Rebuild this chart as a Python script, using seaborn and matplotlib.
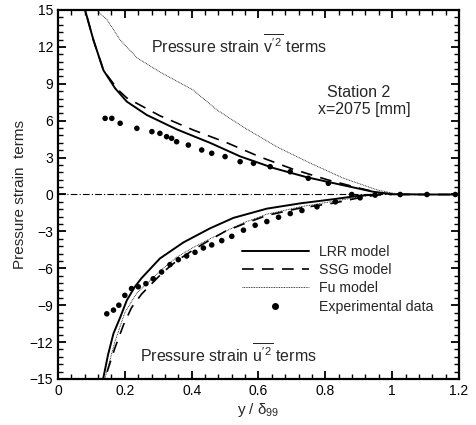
import numpy as np
import pandas as pd
import matplotlib
matplotlib.use("Agg")
import matplotlib.pyplot as plt
import seaborn as sns
from matplotlib.ticker import AutoMinorLocator
from matplotlib.lines import Line2D

# ---- data ----
lrr_up_x = [0.070, 0.081, 0.106, 0.136, 0.171, 0.206, 0.266, 0.355, 0.455, 0.545, 0.645, 0.745, 0.854, 0.944, 1.004, 1.10, 1.19]
lrr_up_y = [17.0, 15.0, 12.56, 10.1, 8.63, 7.55, 6.46, 5.30, 4.20, 3.10, 2.15, 1.40, 0.75, 0.22, 0.02, 0.0, 0.0]

ssg_up_x = [0.070, 0.081, 0.106, 0.136, 0.180, 0.206, 0.305, 0.404, 0.506, 0.605, 0.704, 0.806, 0.904, 0.965, 1.02, 1.10, 1.19]
ssg_up_y = [17.0, 15.0, 12.56, 10.1, 8.5, 7.85, 6.40, 5.25, 4.20, 3.05, 2.05, 1.20, 0.50, 0.10, 0.0, 0.0, 0.0]

fu_up_x = [0.105, 0.115, 0.147, 0.186, 0.237, 0.305, 0.404, 0.476, 0.554, 0.656, 0.754, 0.853, 0.955, 1.004, 1.10, 1.19]
fu_up_y = [17.0, 15.0, 14.2, 12.56, 11.1, 9.96, 8.5, 6.87, 5.49, 3.86, 2.56, 1.34, 0.37, 0.10, 0.0, 0.0]

lrr_lo_x = [0.130, 0.135, 0.150, 0.166, 0.186, 0.206, 0.230, 0.250, 0.305, 0.375, 0.455, 0.525, 0.625, 0.725, 0.825, 0.900, 0.950]
lrr_lo_y = [-16.0, -15.0, -13.0, -11.3, -10.0, -8.6, -7.5, -6.8, -5.2, -3.9, -2.75, -1.9, -1.15, -0.72, -0.38, -0.10, 0.0]

ssg_lo_x = [0.135, 0.140, 0.170, 0.196, 0.220, 0.250, 0.275, 0.315, 0.355, 0.405, 0.445, 0.500, 0.555, 0.625, 0.725, 0.825, 0.895, 0.950, 1.000]
ssg_lo_y = [-16.0, -15.0, -12.5, -10.6, -9.2, -8.1, -7.4, -6.3, -5.4, -4.5, -3.85, -3.0, -2.4, -1.7, -1.1, -0.7, -0.3, -0.05, 0.0]

fu_lo_x = [0.135, 0.140, 0.170, 0.200, 0.236, 0.275, 0.315, 0.355, 0.405, 0.455, 0.500, 0.555, 0.625, 0.725, 0.825, 0.900, 0.950]
fu_lo_y = [-16.0, -15.0, -12.0, -9.6, -8.0, -7.0, -6.0, -5.1, -4.3, -3.6, -3.0, -2.3, -1.6, -1.0, -0.55, -0.2, 0.0]

exp_up_x = [0.141, 0.161, 0.186, 0.236, 0.281, 0.305, 0.325, 0.340, 0.355, 0.390, 0.430, 0.460, 0.500, 0.545,
            0.585, 0.635, 0.695, 0.749, 0.809, 0.879, 0.904, 0.949, 1.024, 1.104, 1.189]
exp_up_y = [6.19, 6.19, 5.79, 5.38, 5.11, 4.97, 4.70, 4.57, 4.29, 4.02, 3.62, 3.35, 3.08, 2.67,
            2.54, 2.26, 1.85, 1.32, 0.91, 0.0, -0.27, -0.05, 0.0, 0.0, 0.0]

exp_lo_x = [0.146, 0.166, 0.182, 0.200, 0.220, 0.240, 0.263, 0.285, 0.310, 0.335, 0.360, 0.385, 0.410, 0.435,
            0.460, 0.490, 0.520, 0.555, 0.590, 0.625, 0.660, 0.695, 0.730, 0.775, 0.830]
exp_lo_y = [-9.7, -9.4, -9.0, -8.2, -7.65, -7.5, -7.25, -6.85, -6.3, -5.7, -5.3, -5.0, -4.7, -4.35,
            -4.1, -3.75, -3.4, -2.9, -2.5, -2.2, -1.85, -1.55, -1.3, -1.0, -0.6]

zero_x = [0.0, 1.2]
zero_y = [0.0, 0.0]

x_ticks = [0, 0.2, 0.4, 0.6, 0.8, 1.0, 1.2]
x_ticklabels = ["0", "0.2", "0.4", "0.6", "0.8", "1", "1.2"]
y_ticks = [-15, -12, -9, -6, -3, 0, 3, 6, 9, 12, 15]

# ---- figure ----
sns.set_style("ticks")
plt.rcParams['font.family'] = ['Liberation Sans', 'DejaVu Sans']
plt.rcParams['mathtext.fontset'] = 'custom'
plt.rcParams['mathtext.rm'] = 'Liberation Sans'
plt.rcParams['mathtext.it'] = 'Liberation Sans'

fig = plt.figure(figsize=(4.77, 4.25), dpi=100)
ax = fig.add_axes([58/477, 1-379/425, 401/477, 369/425])

k = dict(ax=ax, sort=False, estimator=None, color='black', legend=False)

sns.lineplot(x=zero_x, y=zero_y, linewidth=0.8, linestyle=(0, (6, 2, 1, 2)), **k)
sns.lineplot(x=fu_up_x, y=fu_up_y, linewidth=0.6, linestyle=(0, (1, 1)), **k)
sns.lineplot(x=fu_lo_x, y=fu_lo_y, linewidth=0.6, linestyle=(0, (1, 1)), **k)
sns.lineplot(x=ssg_up_x, y=ssg_up_y, linewidth=1.2, linestyle=(0, (7, 5)), **k)
sns.lineplot(x=ssg_lo_x, y=ssg_lo_y, linewidth=1.2, linestyle=(0, (7, 5)), **k)
sns.lineplot(x=lrr_up_x, y=lrr_up_y, linewidth=1.4, linestyle='-', **k)
sns.lineplot(x=lrr_lo_x, y=lrr_lo_y, linewidth=1.4, linestyle='-', **k)
sns.scatterplot(x=exp_up_x, y=exp_up_y, ax=ax, color='black', s=16, edgecolor='none', legend=False, zorder=5)
sns.scatterplot(x=exp_lo_x, y=exp_lo_y, ax=ax, color='black', s=16, edgecolor='none', legend=False, zorder=5)

ax.set_xlim(0, 1.2)
ax.set_ylim(-15, 15)
ax.set_xticks(x_ticks)
ax.set_xticklabels(x_ticklabels)
ax.set_yticks(y_ticks)
ax.xaxis.set_minor_locator(AutoMinorLocator(5))
ax.yaxis.set_minor_locator(AutoMinorLocator(5))
ax.tick_params(which='both', direction='in', top=True, right=True, colors='black', labelsize=10)
ax.tick_params(which='major', length=6, width=1.3)
ax.tick_params(which='minor', length=3.5, width=1.0)
for sp in ax.spines.values():
    sp.set_linewidth(1.6)
    sp.set_color('black')

ax.set_xlabel(r"y / $\delta_{99}$", fontsize=11, labelpad=2)
ax.set_ylabel("Pressure strain  terms", fontsize=11, labelpad=2)

fs = 11.5
ax.text(0.278, 12.2, r"Pressure strain $\overline{v'^{2}}$ terms", fontsize=fs, ha='left', va='center')
ax.text(0.805, 8.3, "Station 2", fontsize=fs, ha='left', va='center')
ax.text(0.778, 6.95, "x=2075 [mm]", fontsize=fs, ha='left', va='center')
ax.text(0.246, -12.95, r"Pressure strain $\overline{u'^{2}}$ terms", fontsize=fs, ha='left', va='center')

handles = [
    Line2D([], [], color='black', linewidth=1.4, linestyle='-'),
    Line2D([], [], color='black', linewidth=1.2, linestyle=(0, (7, 5))),
    Line2D([], [], color='black', linewidth=0.6, linestyle=(0, (1, 1))),
    Line2D([], [], color='black', marker='o', markersize=4, linestyle='none'),
]
labels = ["LRR model", "SSG model", "Fu model", "Experimental data"]
ax.legend(handles, labels, loc='upper left', bbox_to_anchor=(0.445, 0.379), frameon=False,
          fontsize=10.2, handlelength=4.7, handletextpad=0.75, labelspacing=0.3, borderaxespad=0)

fig.savefig("out.png", dpi=100)
